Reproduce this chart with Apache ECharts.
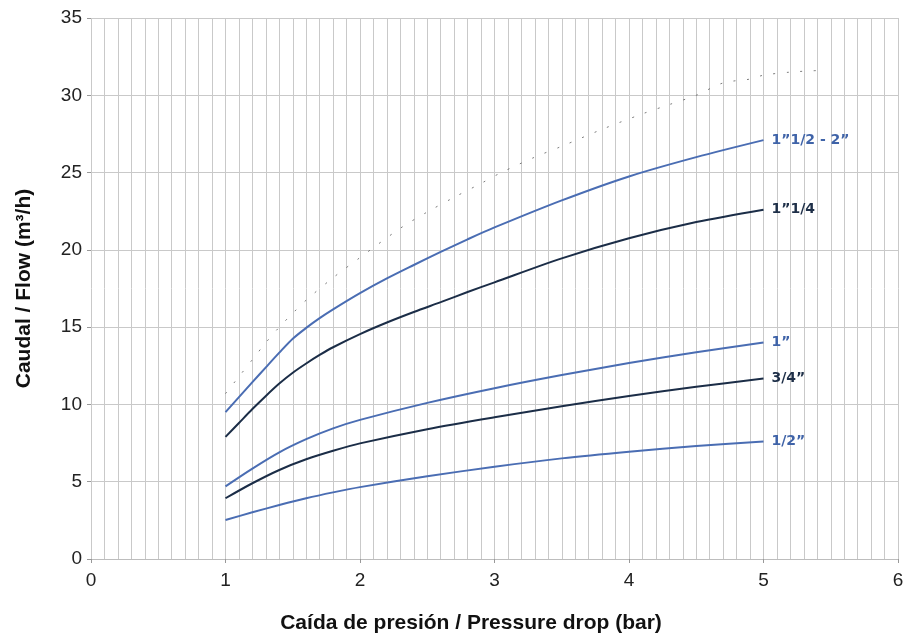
<!DOCTYPE html>
<html>
<head>
<meta charset="utf-8">
<script src="https://cdn.jsdelivr.net/npm/echarts@6/dist/echarts.min.js"></script>
<style>html,body{margin:0;padding:0;background:#fff}#c{width:910px;height:639px}</style>
</head>
<body>
<div id="c"></div>
<script>
// Pressure drop (bar) sample points
var xDense = [1.0, 1.1, 1.2, 1.3, 1.4, 1.5, 1.6, 1.7, 1.8, 2.0, 2.2, 2.4, 2.6, 2.8, 3.0, 3.5, 4.0, 4.5, 5.0];
var xSparse = [1.0, 1.2, 1.4, 1.6, 1.8, 2.0, 2.5, 3.0, 3.5, 4.0, 4.5, 5.0];
// Flow (m³/h)
var flow112_2 = [9.5, 10.47, 11.44, 12.4, 13.35, 14.25, 14.95, 15.58, 16.15, 17.2, 18.15, 19.02, 19.87, 20.68, 21.45, 23.2, 24.75, 26.0, 27.1];
var flow114 = [7.9, 8.8, 9.7, 10.55, 11.35, 12.05, 12.65, 13.2, 13.7, 14.55, 15.3, 15.98, 16.62, 17.27, 17.9, 19.45, 20.75, 21.8, 22.6];
var flow1 = [4.7, 5.85, 6.9, 7.75, 8.45, 9.0, 10.1, 11.05, 11.9, 12.68, 13.37, 14.0];
var flow34 = [3.93, 4.9, 5.76, 6.45, 7.0, 7.48, 8.4, 9.17, 9.88, 10.55, 11.14, 11.67];
var flow12 = [2.52, 3.02, 3.49, 3.93, 4.31, 4.65, 5.35, 5.97, 6.51, 6.94, 7.31, 7.6];
// dotted limit line
var xLimit = [1.0, 1.1, 1.2, 1.3, 1.4, 1.5, 1.6, 1.8, 2.0, 2.3, 2.5, 2.7, 2.9, 3.05, 3.3, 3.5, 3.8, 4.1, 4.3, 4.5, 4.7, 4.9, 5.0, 5.2, 5.4];
var yLimit = [10.7, 11.8, 12.9, 14.0, 15.0, 15.9, 16.75, 18.2, 19.5, 21.4, 22.45, 23.4, 24.3, 25.0, 26.0, 26.7, 27.8, 28.8, 29.4, 30.0, 30.8, 31.05, 31.3, 31.5, 31.6];
var seriesNames = ['1\u201d1/2 - 2\u201d', '1\u201d1/4', '1\u201d', '3/4\u201d', '1/2\u201d'];
var xTickLabels = ['0', '1', '2', '3', '4', '5', '6'];
var yTickLabels = ['0', '5', '10', '15', '20', '25', '30', '35'];

function zip(xs, ys) { return xs.map(function (x, i) { return [x, ys[i]]; }); }

var BLUE = '#4a6db3';
var NAVY = '#1b2d47';
var BLUE_T = '#3f63a8';
var NAVY_T = '#1e2f48';

function curve(name, data, color, tcolor) {
  return {
    name: name, type: 'line', data: data, smooth: 0.3, showSymbol: false, symbol: 'none',
    lineStyle: { color: color, width: 2 },
    endLabel: {
      show: true, formatter: '{a}', color: tcolor, fontWeight: 'bold',
      fontFamily: 'DejaVu Sans', fontSize: 14, distance: 8
    },
    z: 3, silent: true, animation: false
  };
}

var chart = echarts.init(document.getElementById('c'), null, { renderer: 'canvas' });
chart.setOption({
  animation: false,
  grid: { left: 91, right: 12, top: 18, bottom: 80, containLabel: false },
  xAxis: {
    type: 'value', min: 0, max: 6, interval: 1,
    axisLine: { show: true, lineStyle: { color: '#bdbdbd', width: 1 } },
    axisTick: { show: true, length: 4, lineStyle: { color: '#999' } },
    axisLabel: {
      margin: 12, fontSize: 19, color: '#222', fontFamily: 'Liberation Sans',
      formatter: function (v) { return xTickLabels[Math.round(v)]; }
    },
    splitLine: { show: true, lineStyle: { color: '#c9c9c9', width: 1 } },
    minorTick: { show: false, splitNumber: 10 },
    minorSplitLine: { show: true, lineStyle: { color: '#c9c9c9', width: 1 } },
    name: 'Caída de presión / Pressure drop (bar)',
    nameLocation: 'middle', nameGap: 54,
    nameTextStyle: { fontSize: 21, fontWeight: 'bold', color: '#111', fontFamily: 'Liberation Sans', padding: [0, 47, 0, 0] }
  },
  yAxis: {
    type: 'value', min: 0, max: 35, interval: 5,
    axisLine: { show: false },
    axisTick: { show: true, length: 4, lineStyle: { color: '#999' } },
    axisLabel: {
      margin: 9, fontSize: 19, color: '#222', fontFamily: 'Liberation Sans',
      formatter: function (v) { return yTickLabels[Math.round(v / 5)]; }
    },
    splitLine: { show: true, lineStyle: { color: '#c9c9c9', width: 1 } },
    name: 'Caudal / Flow (m\u00b3/h)',
    nameLocation: 'middle', nameGap: 56,
    nameTextStyle: { fontSize: 21, fontWeight: 'bold', color: '#111', fontFamily: 'Liberation Sans' }
  },
  series: [
    {
      name: 'limit', type: 'line', data: zip(xLimit, yLimit), smooth: 0.3, showSymbol: false, symbol: 'none',
      lineStyle: { color: '#444', width: 1, type: [2, 11.5], opacity: 0.7 }, z: 2, silent: true
    },
    curve(seriesNames[0], zip(xDense, flow112_2), BLUE, BLUE_T),
    curve(seriesNames[1], zip(xDense, flow114), NAVY, NAVY_T),
    curve(seriesNames[2], zip(xSparse, flow1), BLUE, BLUE_T),
    curve(seriesNames[3], zip(xSparse, flow34), NAVY, NAVY_T),
    curve(seriesNames[4], zip(xSparse, flow12), BLUE, BLUE_T)
  ]
});
</script>
</body>
</html>
